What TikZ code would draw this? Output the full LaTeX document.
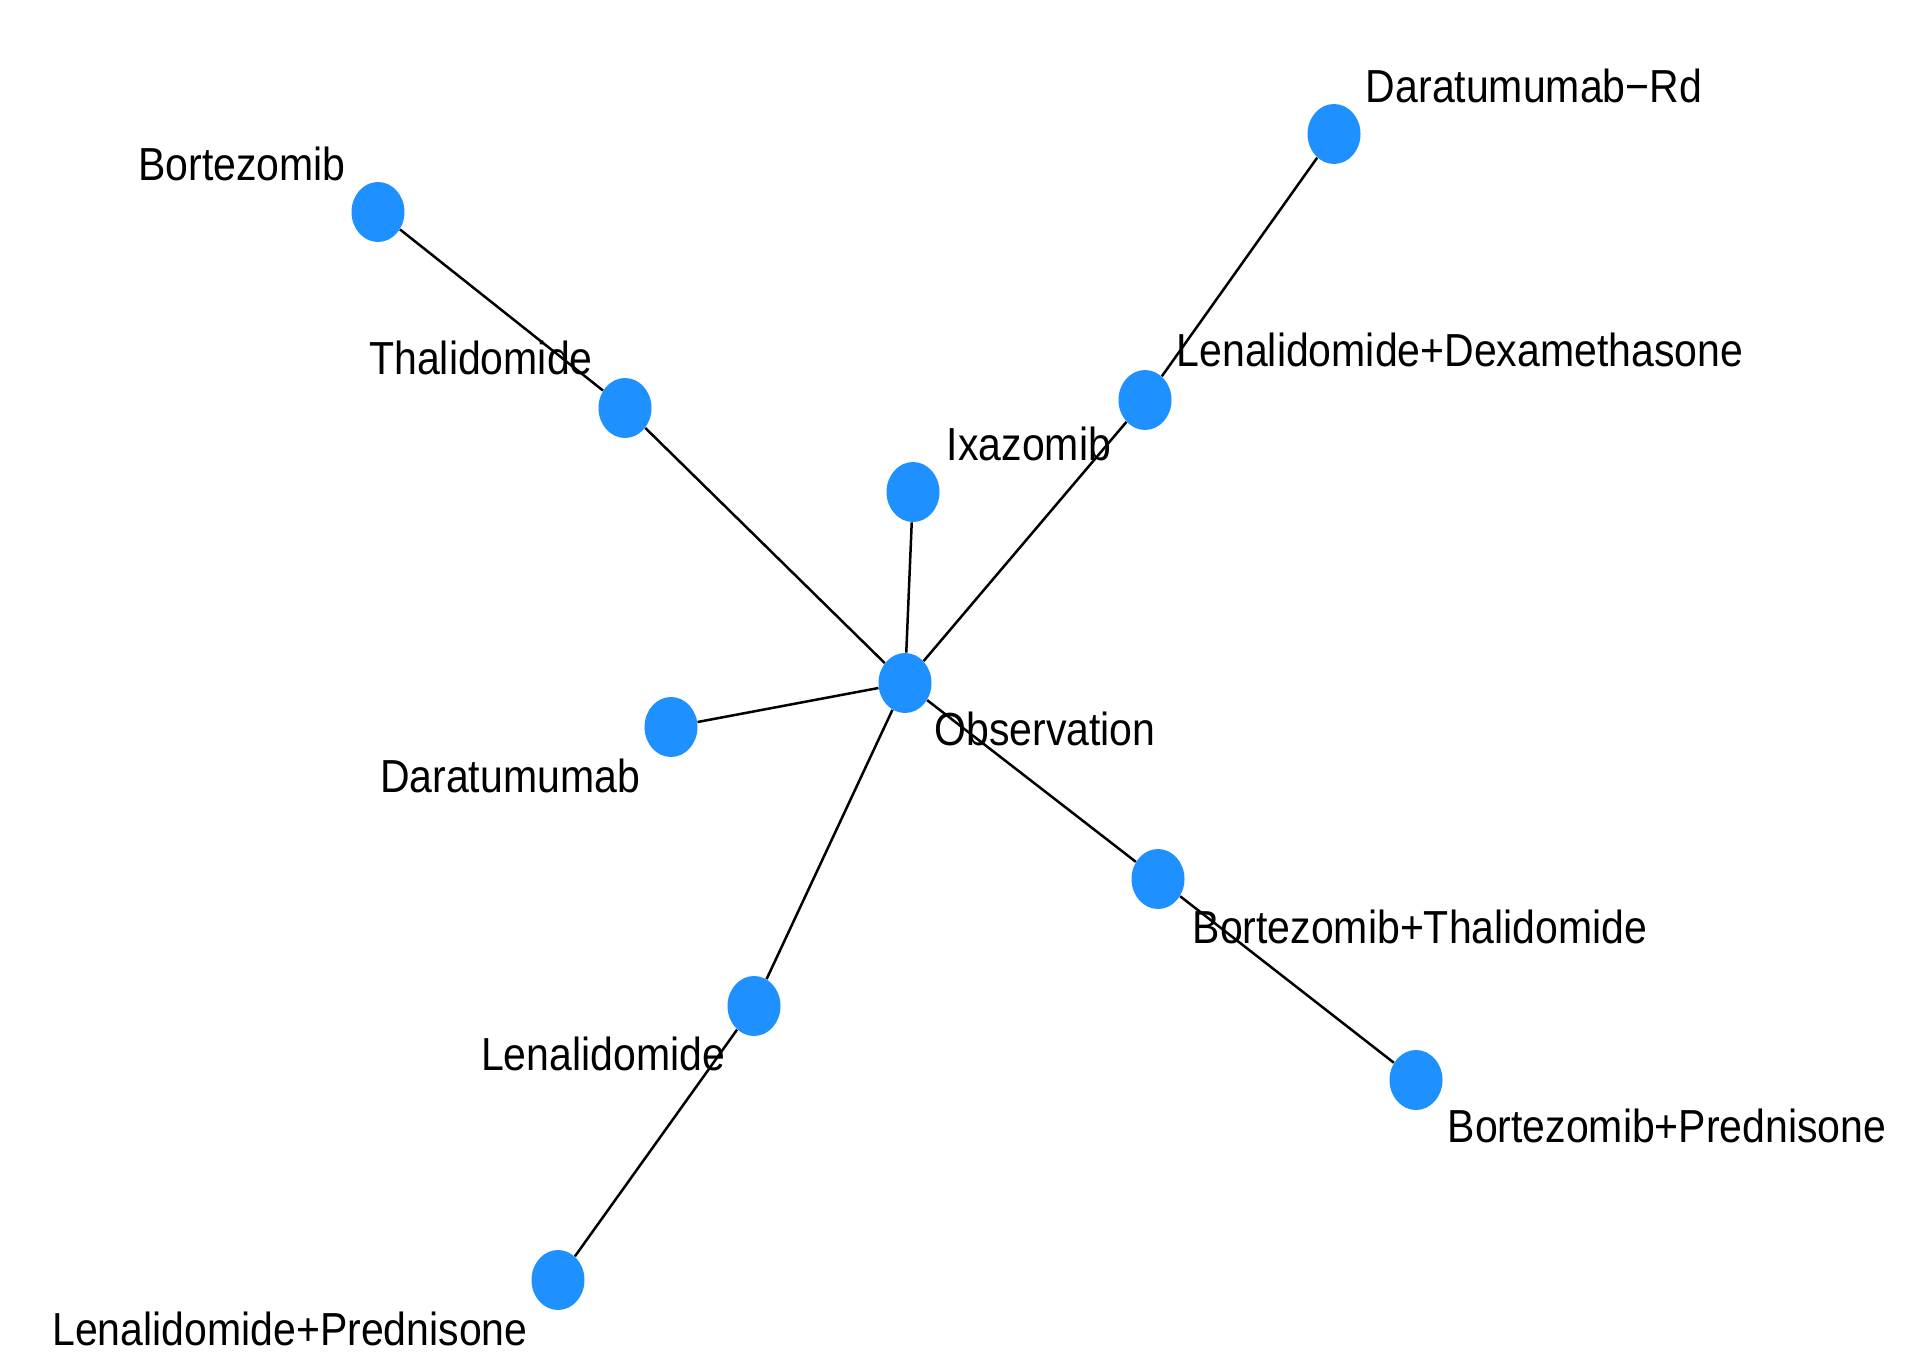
\documentclass[tikz,border=0pt]{standalone}
\usepackage{fontspec}
\setmainfont{Liberation Sans}
\usetikzlibrary{shapes.geometric}
\definecolor{dodger}{HTML}{1E90FF}
\newcommand\lbltxt[1]{\scalebox{1}[1.13]{#1}}
\tikzset{
  vert/.style={ellipse, fill=dodger, draw=none, inner sep=0pt, minimum width=26.5pt, minimum height=30pt},
  lbl/.style={anchor=base, inner sep=0pt, font=\fontsize{20.5}{24}\selectfont},
  edge/.style={draw=black, line width=1.25pt}
}
\begin{document}
\begin{tikzpicture}[x=0.5pt, y=-0.5pt]
\useasboundingbox (0,0) rectangle (1932,1358);
\fill[white] (0,0) rectangle (1932,1358);
% vertices
\node[vert] (bor) at (378,212) {};
\node[vert] (tha) at (625,408) {};
\node[vert] (drd) at (1334,134) {};
\node[vert] (ldx) at (1145,400) {};
\node[vert] (ixa) at (913,492) {};
\node[vert] (obs) at (905,683) {};
\node[vert] (dar) at (671,727) {};
\node[vert] (bth) at (1158,879) {};
\node[vert] (len) at (754,1006) {};
\node[vert] (bpr) at (1416,1080) {};
\node[vert] (lpr) at (558,1280) {};
% edges
\draw[edge] (bor) -- (tha);
\draw[edge] (tha) -- (obs);
\draw[edge] (drd) -- (ldx);
\draw[edge] (ldx) -- (obs);
\draw[edge] (ixa) -- (obs);
\draw[edge] (dar) -- (obs);
\draw[edge] (obs) -- (bth);
\draw[edge] (bth) -- (bpr);
\draw[edge] (obs) -- (len);
\draw[edge] (len) -- (lpr);
% labels
\node[lbl] (lbor) at (242,181) {\lbltxt{Bortezomib}};
\node[lbl] (ltha) at (481,375) {\lbltxt{Thalidomide}};
\node[lbl] (ldrd) at (1534,103) {\lbltxt{Daratumumab−Rd}};
\node[lbl] (lldx) at (1460,367) {\lbltxt{Lenalidomide+Dexamethasone}};
\node[lbl] (lixa) at (1029,460) {\lbltxt{Ixazomib}};
\node[lbl] (lobs) at (1045,745) {\lbltxt{Observation}};
\node[lbl] (ldar) at (510,792) {\lbltxt{Daratumumab}};
\node[lbl] (lbth) at (1420,943) {\lbltxt{Bortezomib+Thalidomide}};
\node[lbl] (llen) at (603,1070) {\lbltxt{Lenalidomide}};
\node[lbl] (lbpr) at (1667,1142) {\lbltxt{Bortezomib+Prednisone}};
\node[lbl] (llpr) at (290,1345) {\lbltxt{Lenalidomide+Prednisone}};
\end{tikzpicture}
\end{document}
